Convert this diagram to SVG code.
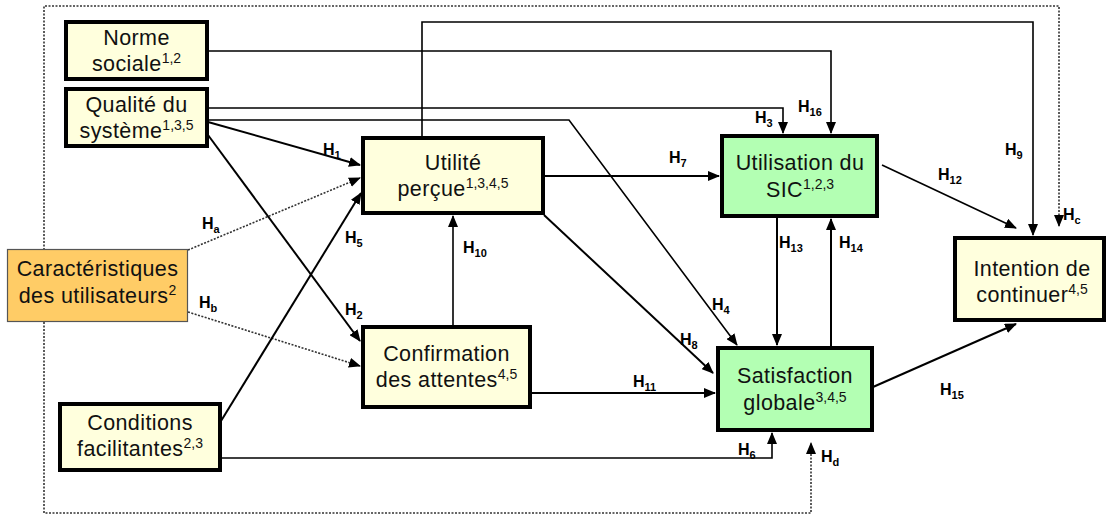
<svg xmlns="http://www.w3.org/2000/svg" width="1107" height="515" viewBox="0 0 1107 515">
<style>
.box{stroke:#000;stroke-width:4}
.y{fill:#FFFFDD}
.g{fill:#B3FFB3}
.o{fill:#FFCC66;stroke:#555;stroke-width:1.2}
.t{font-family:"Liberation Sans",Arial,sans-serif;font-size:21.5px;letter-spacing:0.4px;text-anchor:middle;fill:#111}
.sup{font-size:14px;letter-spacing:0}
.c{fill:none;stroke:#000;stroke-width:2}
.thin{stroke-width:1.6}
.d{fill:none;stroke:#333;stroke-width:1.6;stroke-dasharray:2,1.5}
.h{font-family:"Liberation Sans",Arial,sans-serif;font-size:16px;font-weight:bold;fill:#000}
.s{font-size:11px}
</style>
<defs>
<marker id="a" markerUnits="userSpaceOnUse" markerWidth="12" markerHeight="10" refX="11" refY="5" orient="auto"><path d="M0,0 L12,5 L0,10 z" fill="#000"/></marker>
</defs>
<g id="connectors">
<path class="d" d="M44,250 V6 H1059 V226" marker-end="url(#a)"/>
<path class="d" d="M44,322 V513 H811 V443" marker-end="url(#a)"/>
<path class="c thin" d="M208,51 H831 V133" marker-end="url(#a)"/>
<path class="c thin" d="M208,108 H783 V133" marker-end="url(#a)"/>
<path class="c thin" d="M208,120 H569 L737,345" marker-end="url(#a)"/>
<path class="c" d="M208,122 L360,165" marker-end="url(#a)"/>
<path class="c" d="M208,135 L360,341" marker-end="url(#a)"/>
<path class="d" d="M188,250 L360,178" marker-end="url(#a)"/>
<path class="d" d="M188,312 L360,366" marker-end="url(#a)"/>
<path class="c" d="M221,421 L361,193" marker-end="url(#a)"/>
<path class="c thin" d="M221,458 H772 V433" marker-end="url(#a)"/>
<path class="c" d="M544,176 H719" marker-end="url(#a)"/>
<path class="c" d="M544,215 L713,373" marker-end="url(#a)"/>
<path class="c thin" d="M422,137 V22 H1033 V235" marker-end="url(#a)"/>
<path class="c thin" d="M453,326 V216" marker-end="url(#a)"/>
<path class="c" d="M531,393 H715" marker-end="url(#a)"/>
<path class="c thin" d="M882,165 L1016,228" marker-end="url(#a)"/>
<path class="c" d="M777,217 V345" marker-end="url(#a)"/>
<path class="c" d="M831,347 V219" marker-end="url(#a)"/>
<path class="c" d="M873,387 L1016,324" marker-end="url(#a)"/>
<text class="h" x="323" y="155">H<tspan class="s" dy="4">1</tspan></text>
<text class="h" x="202" y="229">H<tspan class="s" dy="4">a</tspan></text>
<text class="h" x="345" y="243">H<tspan class="s" dy="4">5</tspan></text>
<text class="h" x="199" y="308">H<tspan class="s" dy="4">b</tspan></text>
<text class="h" x="345" y="315">H<tspan class="s" dy="4">2</tspan></text>
<text class="h" x="669" y="163">H<tspan class="s" dy="4">7</tspan></text>
<text class="h" x="463" y="253">H<tspan class="s" dy="4">10</tspan></text>
<text class="h" x="712" y="310">H<tspan class="s" dy="4">4</tspan></text>
<text class="h" x="680" y="345">H<tspan class="s" dy="4">8</tspan></text>
<text class="h" x="633" y="387">H<tspan class="s" dy="4">11</tspan></text>
<text class="h" x="755" y="123">H<tspan class="s" dy="4">3</tspan></text>
<text class="h" x="798" y="112">H<tspan class="s" dy="4">16</tspan></text>
<text class="h" x="1005" y="155">H<tspan class="s" dy="4">9</tspan></text>
<text class="h" x="938" y="180">H<tspan class="s" dy="4">12</tspan></text>
<text class="h" x="1063" y="220">H<tspan class="s" dy="4">c</tspan></text>
<text class="h" x="779" y="248">H<tspan class="s" dy="4">13</tspan></text>
<text class="h" x="839" y="248">H<tspan class="s" dy="4">14</tspan></text>
<text class="h" x="940" y="395">H<tspan class="s" dy="4">15</tspan></text>
<text class="h" x="738" y="455">H<tspan class="s" dy="4">6</tspan></text>
<text class="h" x="821" y="462">H<tspan class="s" dy="4">d</tspan></text>
</g>
<g id="norme">
<rect class="box y" x="66" y="22" width="141" height="57"/>
<text class="t" x="136.5" y="45">Norme</text>
<text class="t" x="136.5" y="71">sociale<tspan class="sup" dy="-8">1,2</tspan></text>
</g>
<g id="qualite">
<rect class="box y" x="66" y="89" width="141" height="57"/>
<text class="t" x="136.5" y="112">Qualité du</text>
<text class="t" x="136.5" y="138">système<tspan class="sup" dy="-8">1,3,5</tspan></text>
</g>
<g id="utilite">
<rect class="box y" x="363" y="138" width="180" height="75"/>
<text class="t" x="453" y="170">Utilité</text>
<text class="t" x="453" y="196">perçue<tspan class="sup" dy="-8">1,3,4,5</tspan></text>
</g>
<g id="utilisation">
<rect class="box g" x="722" y="136" width="155" height="80"/>
<text class="t" x="800" y="170">Utilisation du</text>
<text class="t" x="800" y="197">SIC<tspan class="sup" dy="-8">1,2,3</tspan></text>
</g>
<g id="intention">
<rect class="box y" x="955" y="238" width="149" height="82"/>
<text class="t" x="1032" y="276">Intention de</text>
<text class="t" x="1032" y="302">continuer<tspan class="sup" dy="-8">4,5</tspan></text>
</g>
<g id="caracteristiques">
<rect class="o" x="7.5" y="249.5" width="180" height="72"/>
<text class="t" x="97.5" y="276">Caractéristiques</text>
<text class="t" x="97.5" y="303">des utilisateurs<tspan class="sup" dy="-8">2</tspan></text>
</g>
<g id="confirmation">
<rect class="box y" x="363" y="327" width="167" height="80"/>
<text class="t" x="446.5" y="361">Confirmation</text>
<text class="t" x="446.5" y="387">des attentes<tspan class="sup" dy="-8">4,5</tspan></text>
</g>
<g id="conditions">
<rect class="box y" x="60" y="404" width="160" height="66"/>
<text class="t" x="140" y="430">Conditions</text>
<text class="t" x="140" y="456">facilitantes<tspan class="sup" dy="-8">2,3</tspan></text>
</g>
<g id="satisfaction">
<rect class="box g" x="718" y="348" width="154" height="82"/>
<text class="t" x="795" y="383">Satisfaction</text>
<text class="t" x="795" y="410">globale<tspan class="sup" dy="-8">3,4,5</tspan></text>
</g>
</svg>
